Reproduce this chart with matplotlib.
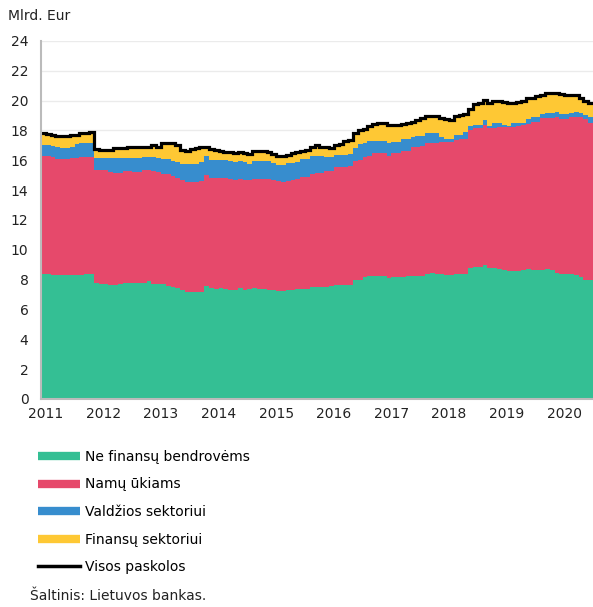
import numpy as np
import matplotlib
matplotlib.use('Agg')
import matplotlib.pyplot as plt
from matplotlib.lines import Line2D

# monthly data, Dec 2010 .. Jun 2020 (mlrd. Eur)
# band tops: nfc, +households, +government, +financial (= total)
nfc = [8.40, 8.35, 8.30, 8.28, 8.28, 8.28, 8.28, 8.28, 8.28, 8.35, 8.38, 7.75,
       7.73, 7.72, 7.62, 7.65, 7.70, 7.75, 7.77, 7.78, 7.78, 7.80, 7.88, 7.72,
       7.70, 7.68, 7.60, 7.50, 7.45, 7.30, 7.20, 7.15, 7.15, 7.18, 7.55, 7.42,
       7.40, 7.42, 7.38, 7.32, 7.30, 7.45, 7.32, 7.35, 7.42, 7.40, 7.38, 7.32,
       7.28, 7.25, 7.25, 7.30, 7.32, 7.35, 7.38, 7.40, 7.50, 7.50, 7.52, 7.50,
       7.60, 7.62, 7.62, 7.62, 7.65, 7.95, 8.00, 8.20, 8.25, 8.25, 8.25, 8.25,
       8.12, 8.18, 8.20, 8.20, 8.22, 8.22, 8.22, 8.25, 8.40, 8.42, 8.40, 8.38,
       8.30, 8.28, 8.35, 8.38, 8.40, 8.80, 8.85, 8.88, 8.95, 8.78, 8.75, 8.72,
       8.62, 8.60, 8.60, 8.58, 8.62, 8.72, 8.62, 8.62, 8.68, 8.70, 8.68, 8.45,
       8.40, 8.35, 8.35, 8.33, 8.15, 8.00, 7.95]

households_top = [16.30, 16.29, 16.25, 16.06, 16.06, 16.06, 16.13, 16.13, 16.24, 16.24, 16.24, 15.35,
                  15.35, 15.35, 15.24, 15.17, 15.17, 15.25, 15.30, 15.24, 15.24, 15.35, 15.35, 15.30,
                  15.20, 15.10, 15.08, 14.95, 14.80, 14.68, 14.57, 14.57, 14.57, 14.60, 15.00, 14.79,
                  14.79, 14.79, 14.79, 14.72, 14.68, 14.75, 14.68, 14.70, 14.77, 14.77, 14.77, 14.72,
                  14.68, 14.60, 14.57, 14.60, 14.68, 14.75, 14.90, 14.90, 15.10, 15.13, 15.15, 15.30,
                  15.30, 15.57, 15.57, 15.57, 15.60, 15.97, 16.00, 16.24, 16.30, 16.47, 16.47, 16.47,
                  16.30, 16.47, 16.47, 16.60, 16.64, 16.90, 16.90, 16.95, 17.13, 17.13, 17.13, 17.20,
                  17.24, 17.24, 17.35, 17.40, 17.45, 18.05, 18.14, 18.14, 18.40, 18.14, 18.14, 18.20,
                  18.25, 18.25, 18.25, 18.28, 18.36, 18.45, 18.59, 18.59, 18.81, 18.81, 18.81, 18.88,
                  18.75, 18.75, 18.93, 18.93, 18.93, 18.75, 18.52]

government_top = [17.02, 17.00, 16.95, 16.88, 16.85, 16.85, 16.88, 17.10, 17.13, 17.13, 17.15, 16.15,
                  16.13, 16.13, 16.13, 16.13, 16.15, 16.13, 16.13, 16.13, 16.15, 16.20, 16.20, 16.20,
                  16.15, 16.06, 16.06, 15.95, 15.90, 15.75, 15.73, 15.73, 15.73, 15.88, 16.30, 16.00,
                  16.00, 16.00, 16.00, 15.95, 15.90, 15.95, 15.88, 15.75, 15.97, 15.97, 15.97, 15.97,
                  15.80, 15.70, 15.70, 15.80, 15.84, 15.90, 16.06, 16.06, 16.29, 16.29, 16.29, 16.20,
                  16.20, 16.35, 16.35, 16.35, 16.40, 16.80, 17.10, 17.13, 17.30, 17.32, 17.32, 17.32,
                  17.15, 17.24, 17.24, 17.40, 17.40, 17.55, 17.63, 17.63, 17.85, 17.85, 17.85, 17.58,
                  17.42, 17.40, 17.70, 17.72, 17.90, 18.30, 18.36, 18.36, 18.70, 18.30, 18.48, 18.48,
                  18.35, 18.30, 18.48, 18.48, 18.48, 18.80, 18.88, 18.88, 19.10, 19.15, 19.15, 19.25,
                  19.10, 19.08, 19.20, 19.25, 19.20, 19.03, 18.88]

total = [17.85, 17.75, 17.70, 17.62, 17.60, 17.62, 17.68, 17.72, 17.80, 17.82, 17.88, 16.75,
         16.70, 16.70, 16.70, 16.80, 16.80, 16.85, 16.87, 16.87, 16.87, 16.90, 16.90, 17.00,
         16.90, 17.15, 17.18, 17.15, 17.00, 16.70, 16.64, 16.75, 16.80, 16.90, 16.92, 16.75,
         16.68, 16.60, 16.58, 16.55, 16.52, 16.55, 16.50, 16.40, 16.60, 16.60, 16.60, 16.55,
         16.45, 16.32, 16.28, 16.35, 16.48, 16.55, 16.65, 16.72, 16.90, 17.05, 16.90, 16.88,
         16.82, 17.05, 17.08, 17.28, 17.35, 17.80, 18.00, 18.10, 18.30, 18.45, 18.50, 18.48,
         18.40, 18.35, 18.35, 18.45, 18.48, 18.55, 18.70, 18.85, 19.00, 18.97, 18.95, 18.85,
         18.75, 18.70, 18.95, 19.05, 19.10, 19.45, 19.75, 19.82, 20.05, 19.85, 19.98, 20.00,
         19.88, 19.85, 19.85, 19.88, 19.95, 20.15, 20.20, 20.30, 20.40, 20.52, 20.52, 20.48,
         20.42, 20.40, 20.40, 20.38, 20.20, 20.00, 19.85]

labels = ['Ne finansų bendrovėms', 'Namų ūkiams', 'Valdžios sektoriui',
          'Finansų sektoriui', 'Visos paskolos']
colors = ['#34BF94', '#E6496B', '#378DCE', '#FEC834']
year_ticks = list(range(2011, 2021))

n = len(total)
edges = 2010 + 11 / 12 + np.arange(n + 1) / 12

fig = plt.figure(figsize=(5.93, 6.07), dpi=100)
ax = fig.add_axes([0.069, 0.3427, 0.931, 0.5898])

levels = [np.zeros(n), np.array(nfc), np.array(households_top),
          np.array(government_top), np.array(total)]
for k in range(4):
    ax.stairs(levels[k + 1], edges, baseline=levels[k], fill=True,
              color=colors[k], lw=0, zorder=2)
ax.stairs(total, edges, baseline=None, color='black', lw=2.3, zorder=3)

ax.set_xlim(edges[0], edges[-1])
ax.set_ylim(0, 24)
ax.set_yticks(range(0, 25, 2))
ax.set_xticks(year_ticks)
ax.set_xticklabels([str(y) for y in year_ticks])
ax.grid(axis='y', color='#EBEBEB', lw=1, zorder=0)
ax.tick_params(length=0, labelsize=10, colors='#222222')
ax.tick_params(axis='y', pad=9)
ax.tick_params(axis='x', pad=6)
for s in ['top', 'right']:
    ax.spines[s].set_visible(False)
for s in ['left', 'bottom']:
    ax.spines[s].set_color('#BBBBBB')
    ax.spines[s].set_linewidth(1.5)
    ax.spines[s].set_zorder(4)

fig.text(0.013, 0.973, 'Mlrd. Eur', fontsize=10, color='#222222', va='center')

handles = [Line2D([], [], color=c, lw=6, solid_capstyle='butt') for c in colors]
handles.append(Line2D([], [], color='black', lw=2.5))
fig.legend(handles, labels, loc='upper left', bbox_to_anchor=(0.055, 0.268),
           frameon=False, fontsize=10, handlelength=3.0, handletextpad=0.4,
           labelspacing=0.98, borderaxespad=0)

fig.text(0.05, 0.006, 'Šaltinis: Lietuvos bankas.', fontsize=10, color='#222222',
         va='bottom')

fig.savefig('out.png', dpi=100)
